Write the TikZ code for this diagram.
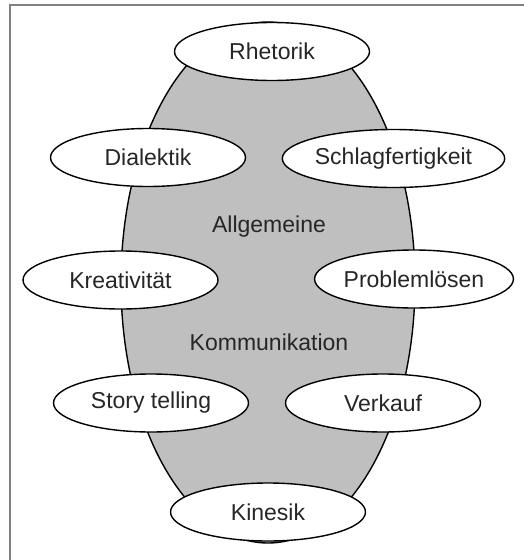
\documentclass[tikz,border=0pt]{standalone}
\usepackage{fontspec}
\setmainfont{Liberation Sans}
\usetikzlibrary{shapes.geometric}
\tikzset{
  skill/.style={draw, ellipse, fill=white, line width=1.4pt, inner sep=0pt,
    minimum width=195pt, minimum height=58pt, font=\fontsize{23}{25}\selectfont, text=black!85},
  core/.style={font=\fontsize{23}{25}\selectfont, text=black!85}
}
\begin{document}
\begin{tikzpicture}[x=1pt, y=-1pt]
		%%%%% START %%%%%
		\useasboundingbox (0, 0) rectangle (524, 560);
		
		\draw[line width=1.5pt, color=black!50] (524, 5) -- (10, 5) -- (10, 560);
		
		\draw[line width=1.4pt, fill=black!25] (268, 282.5) ellipse (147 and 260.5);
		
		\node[core] (allgemeine) at (269, 227) {Allgemeine};
		\node[core] (kommunikation) at (269, 342) {Kommunikation};
		
		\node[skill] (rhetorik) at (272, 51.5) {Rhetorik};
		\node[skill] (dialektik) at (148, 157.5) {Dialektik};
		\node[skill, minimum width=198pt] (schlagfertigkeit) at (393.5, 158.5) {Schlagfertigkeit};
		\node[skill] (kreativitaet) at (120.5, 280) {Kreativität};
		\node[skill] (problemloesen) at (414, 279) {Problemlösen};
		\node[skill] (storytelling) at (151, 403) {Story telling};
		\node[skill] (verkauf) at (383, 403) {Verkauf};
		\node[skill] (kinesik) at (268, 512) {Kinesik};
		
		%%%%% END %%%%%
	\end{tikzpicture}
\end{document}
